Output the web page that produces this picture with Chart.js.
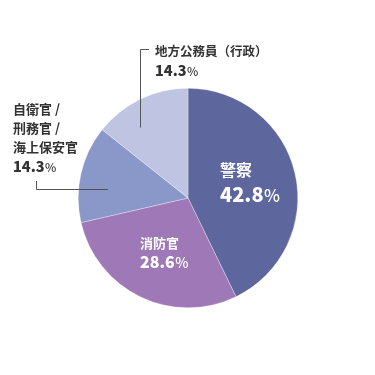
<!DOCTYPE html>
<html>
<head>
<meta charset="utf-8">
<script src="https://cdn.jsdelivr.net/npm/chart.js@4"></script>
<style>
  html, body { margin: 0; padding: 0; background: #fff; }
  #wrap { width: 375px; height: 375px; position: relative; }
</style>
</head>
<body>
<div id="wrap"><canvas id="pieChart" width="375" height="375"></canvas></div>
<script>
// データ
const categories = ['警察', '消防官', '自衛官 / 刑務官 / 海上保安官', '地方公務員（行政）'];
const values = [42.8, 28.6, 14.3, 14.3];
const colors = ['#5d679d', '#9f79b7', '#8a97c9', '#bec4e1'];

const JP = '"Noto Sans CJK JP", "Noto Sans", sans-serif';

// ラベル描画用プラグイン
const labelPlugin = {
    id: 'labels',
    afterDraw(chart) {
        const ctx = chart.ctx;

        function pct(v, x, y, size, color) {
            ctx.fillStyle = color;
            ctx.textAlign = 'left';
            ctx.textBaseline = 'alphabetic';
            ctx.font = '900 ' + size + 'px ' + JP;
            const s = v.toFixed(1);
            ctx.fillText(s, x, y);
            const w = ctx.measureText(s).width;
            ctx.font = '500 ' + Math.round(size * 0.85) + 'px ' + JP;
            ctx.fillText('%', x + w + 0.5, y);
        }

        // 内側ラベル
        ctx.fillStyle = '#fff';
        ctx.font = 'bold 16px ' + JP;
        ctx.textAlign = 'left';
        ctx.textBaseline = 'alphabetic';
        ctx.fillText(categories[0], 220, 176);
        pct(values[0], 220, 202, 20, '#fff');

        ctx.fillStyle = '#fff';
        ctx.font = 'bold 13px ' + JP;
        ctx.fillText(categories[1], 140, 248);
        pct(values[1], 140, 268, 16, '#fff');

        // 外側ラベル
        ctx.fillStyle = '#333';
        ctx.font = 'bold 12.5px ' + JP;
        ctx.fillText(categories[3], 155, 56);
        pct(values[3], 155, 76, 14.5, '#333');

        ctx.font = 'bold 13px ' + JP;
        const lines = categories[2].split(' / ');
        ctx.fillText(lines[0] + ' /', 13, 114);
        ctx.fillText(lines[1] + ' /', 13, 133);
        ctx.fillText(lines[2], 13, 152);
        pct(values[2], 13, 172, 14.5, '#333');

        // 引き出し線
        ctx.strokeStyle = '#555';
        ctx.lineWidth = 1;
        ctx.beginPath();
        ctx.moveTo(149, 49.5);
        ctx.lineTo(140.5, 49.5);
        ctx.lineTo(140.5, 127.5);
        ctx.stroke();
        ctx.beginPath();
        ctx.moveTo(36.5, 181);
        ctx.lineTo(36.5, 189.5);
        ctx.lineTo(108, 189.5);
        ctx.stroke();
    }
};

new Chart(document.getElementById('pieChart').getContext('2d'), {
    type: 'pie',
    data: {
        labels: categories,
        datasets: [{
            data: values,
            backgroundColor: colors,
            borderColor: 'rgba(255,255,255,0.6)',
            borderWidth: 0.5
        }]
    },
    options: {
        responsive: false,
        animation: false,
        layout: { padding: { left: 78, right: 77, top: 88, bottom: 67 } },
        plugins: { legend: { display: false }, tooltip: { enabled: false } }
    },
    plugins: [labelPlugin]
});
</script>
</body>
</html>
